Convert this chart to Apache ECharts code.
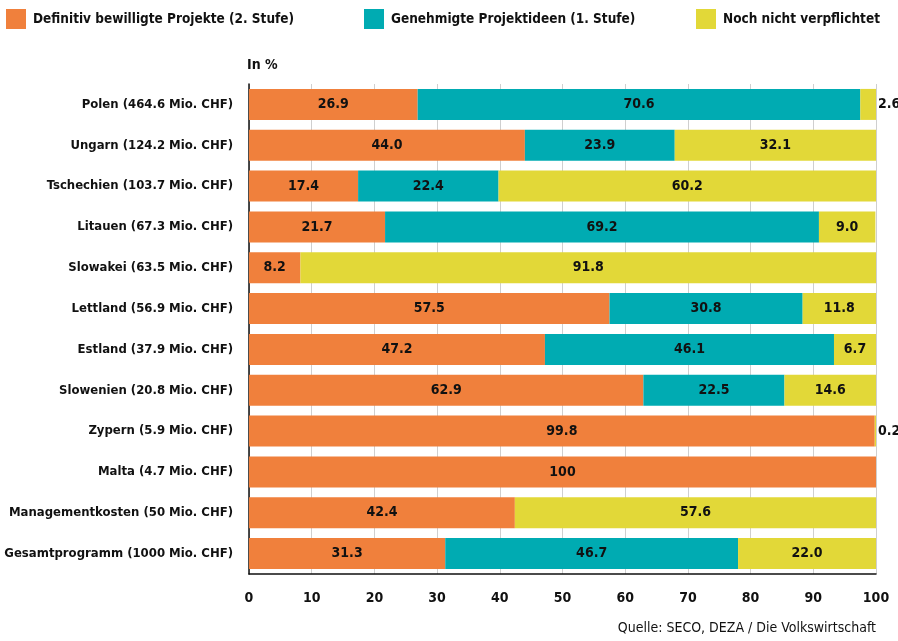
<!DOCTYPE html>
<html><head><meta charset="utf-8">
<script src="https://cdn.jsdelivr.net/npm/echarts@6/dist/echarts.min.js"></script>
<style>html,body{margin:0;padding:0;background:#fff}#c{width:898px;height:641px}</style>
</head><body><div id="c"></div>
<script>
const categories = ["Polen (464.6 Mio. CHF)","Ungarn (124.2 Mio. CHF)","Tschechien (103.7 Mio. CHF)","Litauen (67.3 Mio. CHF)","Slowakei (63.5 Mio. CHF)","Lettland (56.9 Mio. CHF)","Estland (37.9 Mio. CHF)","Slowenien (20.8 Mio. CHF)","Zypern (5.9 Mio. CHF)","Malta (4.7 Mio. CHF)","Managementkosten (50 Mio. CHF)","Gesamtprogramm (1000 Mio. CHF)"];
const definitiv = [26.9,44.0,17.4,21.7,8.2,57.5,47.2,62.9,99.8,100,42.4,31.3];
const genehmigt = [70.6,23.9,22.4,69.2,0,30.8,46.1,22.5,0,0,0,46.7];
const offen = [2.6,32.1,60.2,9.0,91.8,11.8,6.7,14.6,0.2,0,57.6,22.0];
const seriesNames = ["Definitiv bewilligte Projekte (2. Stufe)","Genehmigte Projektideen (1. Stufe)","Noch nicht verpflichtet"];
const colors = ["#F0803C","#00ABB2","#E2D838"];
const xTicks = [0,10,20,30,40,50,60,70,80,90,100];

const FONT = "'DejaVu Sans Condensed',sans-serif";
const chart = echarts.init(document.getElementById('c'));
function fmt(v){ return v === 100 ? '100' : v.toFixed(1); }
function mk(name, data, color){
  return {
    name, type:'bar', stack:'all', barWidth:31, itemStyle:{color},
    data: data.map(v => {
      if (v === 0) return {value:0, label:{show:false}};
      if (v < 4) return {value:v, label:{show:true, position:'right', distance:2}};
      return v;
    }),
    label:{show:true, position:'inside', color:'#111', fontFamily:FONT, fontWeight:'bold', fontSize:14,
      formatter: p => fmt(p.value)},
    emphasis:{disabled:true}
  };
}
chart.setOption({
  animation:false,
  legend:[0,1,2].map((i)=>({
    data:[seriesNames[i]], left:[1,359,691][i], top:4, itemWidth:20, itemHeight:20, itemGap:6,
    icon:'rect', selectedMode:false,
    textStyle:{fontFamily:FONT, fontWeight:'bold', fontSize:13.5, color:'#111', padding:[0,0,0,2]}
  })),
  grid:{left:249, right:22, top:84, bottom:67, outerBoundsMode:'none'},
  xAxis:{type:'value', min:0, max:100, interval:10,
    axisLine:{show:true, lineStyle:{color:'#111', width:1.5}},
    axisTick:{show:false},
    splitLine:{show:true, lineStyle:{color:'#cfcfcf', width:1}},
    axisLabel:{fontFamily:FONT, fontWeight:'bold', fontSize:14, color:'#111', margin:17,
      formatter: v => xTicks.includes(v) ? String(v) : ''}
  },
  yAxis:{type:'category', data:categories, inverse:true,
    axisLine:{show:true, lineStyle:{color:'#111', width:1.5}},
    axisTick:{show:false},
    axisLabel:{fontFamily:FONT, fontWeight:'bold', fontSize:13, color:'#111', margin:16}
  },
  graphic:[
    {type:'text', left:247, top:58, style:{text:'In %', font:"bold 14px "+FONT, fill:'#111'}},
    {type:'text', right:22, top:621, style:{text:'Quelle: SECO, DEZA / Die Volkswirtschaft', font:"14px "+FONT, fill:'#111'}}
  ],
  series:[mk(seriesNames[0], definitiv, colors[0]), mk(seriesNames[1], genehmigt, colors[1]), mk(seriesNames[2], offen, colors[2])]
});
</script></body></html>
